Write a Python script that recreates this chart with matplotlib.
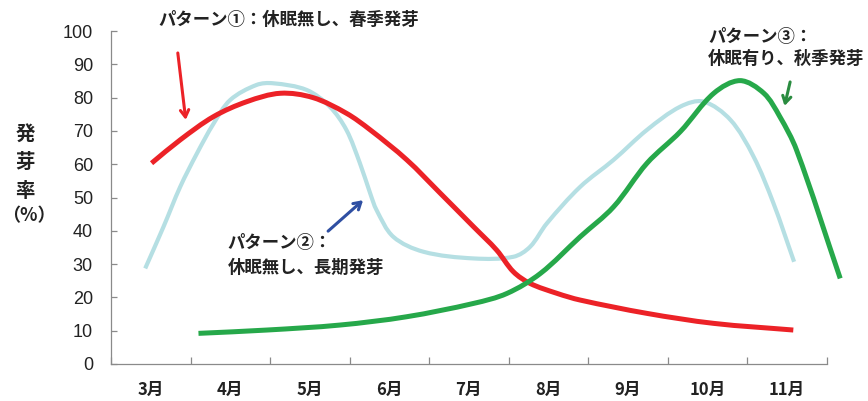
import numpy as np
import matplotlib
matplotlib.use("Agg")
import matplotlib.pyplot as plt
from matplotlib.path import Path
from matplotlib.patches import PathPatch

plt.rcParams["font.family"] = ["Noto Sans CJK JP", "DejaVu Sans"]

# ---- data -------------------------------------------------------------
months = ["3月", "4月", "5月", "6月", "7月", "8月", "9月", "10月", "11月"]
y_ticks = [0, 10, 20, 30, 40, 50, 60, 70, 80, 90, 100]

# month position (0 = March) and germination rate (%)
red_x = [0.01, 0.37, 0.79, 1.21, 1.63, 2.04, 2.46, 2.76, 3.22, 3.64, 4.06,
         4.35, 4.56, 4.77, 5.11, 5.40, 6.24, 7.08, 8.08]
red_y = [60.3, 67.3, 74.3, 78.8, 81.3, 80.0, 75.3, 70.3, 61.3, 51.3, 41.2,
         34.2, 27.7, 24.2, 21.2, 19.2, 15.2, 12.2, 10.2]

blue_x = [-0.07, 0.16, 0.37, 0.58, 0.79, 1.00, 1.33, 1.54, 1.96, 2.25, 2.46,
          2.63, 2.76, 2.84, 3.05, 3.43, 4.06, 4.56, 4.77, 4.98, 5.40, 5.82,
          6.24, 6.66, 6.95, 7.29, 7.58, 7.83, 8.09]
blue_y = [28.7, 41.2, 53.2, 63.2, 72.2, 79.3, 83.8, 84.3, 82.3, 77.3, 70.3,
          60.3, 51.2, 46.2, 38.2, 33.7, 31.7, 32.2, 35.2, 42.2, 53.2, 61.3,
          70.3, 77.3, 78.8, 73.3, 62.3, 48.3, 30.7]

green_x = [0.60, 1.46, 2.38, 3.22, 4.06, 4.48, 4.90, 5.40, 5.82, 6.24, 6.66,
           7.08, 7.41, 7.71, 7.91, 8.12, 8.67]
green_y = [9.2, 10.2, 11.7, 14.2, 18.2, 21.2, 27.2, 38.2, 47.2, 60.3, 69.8,
           81.3, 85.1, 81.3, 74.3, 64.3, 25.7]

RED = "#ec2227"
BLUE = "#b5dfe3"
GREEN = "#26a84a"


def smooth_path(ax, xs, ys):
    """Chord-length Catmull-Rom curve through the points (cubic Beziers)."""
    p = np.column_stack([xs, ys]).astype(float)
    d = ax.transData.transform(p)
    seg = np.hypot(*np.diff(d, axis=0).T)
    t = np.concatenate([[0.0], np.cumsum(seg)])
    n = len(p)
    m = np.zeros_like(p)
    for i in range(n):
        a = max(i - 1, 0)
        b = min(i + 1, n - 1)
        m[i] = (p[b] - p[a]) / (t[b] - t[a])
    verts = [p[0]]
    codes = [Path.MOVETO]
    for i in range(n - 1):
        h = t[i + 1] - t[i]
        verts += [p[i] + m[i] * h / 3.0, p[i + 1] - m[i + 1] * h / 3.0, p[i + 1]]
        codes += [Path.CURVE4] * 3
    return Path(verts, codes)


W, H = 868, 401
fig = plt.figure(figsize=(W / 100, H / 100), dpi=100)
ax = fig.add_axes([111 / W, 1 - 364 / H, (826.7 - 111) / W, (364 - 31) / H])
ax.set_xlim(-0.5, 8.5)
ax.set_ylim(0, 100)

for xs, ys, col, lw, z in [(blue_x, blue_y, BLUE, 3.0, 2),
                           (red_x, red_y, RED, 3.6, 3),
                           (green_x, green_y, GREEN, 3.6, 4)]:
    patch = PathPatch(smooth_path(ax, xs, ys), facecolor="none",
                      edgecolor=col, lw=lw, capstyle="butt",
                      joinstyle="round", transform=ax.transData,
                      clip_on=False, zorder=z)
    ax.add_patch(patch)

# axes styling
for side in ("top", "right"):
    ax.spines[side].set_visible(False)
for side in ("left", "bottom"):
    ax.spines[side].set_color("#8a8a8a")
    ax.spines[side].set_linewidth(0.9)

ax.set_yticks(y_ticks)
ax.set_yticklabels([str(v) for v in y_ticks], family="Liberation Sans",
                   fontsize=13, color="#222222")
ax.tick_params(axis="y", direction="in", length=4, width=0.9,
               color="#8a8a8a", pad=13)

ax.set_xticks(np.arange(-0.5, 9.0, 1.0))
ax.set_xticklabels([])
ax.tick_params(axis="x", which="major", direction="in", length=5, width=0.9,
               color="#8a8a8a")
ax.set_xticks(range(len(months)), minor=True)
ax.set_xticklabels(months, minor=True, fontsize=12, fontweight="bold",
                   color="#222222")
ax.tick_params(axis="x", which="minor", length=0, pad=12)

# y-axis title, stacked vertically
for ch, px, py, fs in [("発", 25, 134, 14), ("芽", 25, 163, 14),
                       ("率", 25, 192, 14), ("（%）", 29, 216, 13)]:
    fig.text(px / W, 1 - py / H, ch, ha="center", va="center",
             fontsize=fs, fontweight="bold", color="#222222")

# annotations
txt = dict(fontsize=12.5, fontweight="bold", color="#222222",
           ha="left", va="center", clip_on=False)
ax.text(0.09, 103.2, "パターン①：休眠無し、春季発芽", **txt)
ax.text(0.97, 36.3, "パターン②：", **txt)
ax.text(0.97, 28.8, "休眠無し、長期発芽", **txt)
ax.text(7.01, 98.2, "パターン③：", **txt)
ax.text(7.01, 91.6, "休眠有り、秋季発芽", **txt)

arrow = "->,head_length=0.5,head_width=0.3"
ax.annotate("", xy=(0.44, 73.3), xytext=(0.34, 93.4),
            arrowprops=dict(arrowstyle=arrow, color=RED, lw=2.2,
                            shrinkA=0, shrinkB=0), annotation_clip=False)
ax.annotate("", xy=(2.67, 49.2), xytext=(2.23, 39.9),
            arrowprops=dict(arrowstyle=arrow, color="#2f4fa2", lw=2.2,
                            shrinkA=0, shrinkB=0), annotation_clip=False)
ax.annotate("", xy=(7.97, 77.5), xytext=(8.04, 84.7),
            arrowprops=dict(arrowstyle=arrow, color="#2a8c40", lw=2.2,
                            shrinkA=0, shrinkB=0), annotation_clip=False)

fig.savefig("out.png", dpi=100)
